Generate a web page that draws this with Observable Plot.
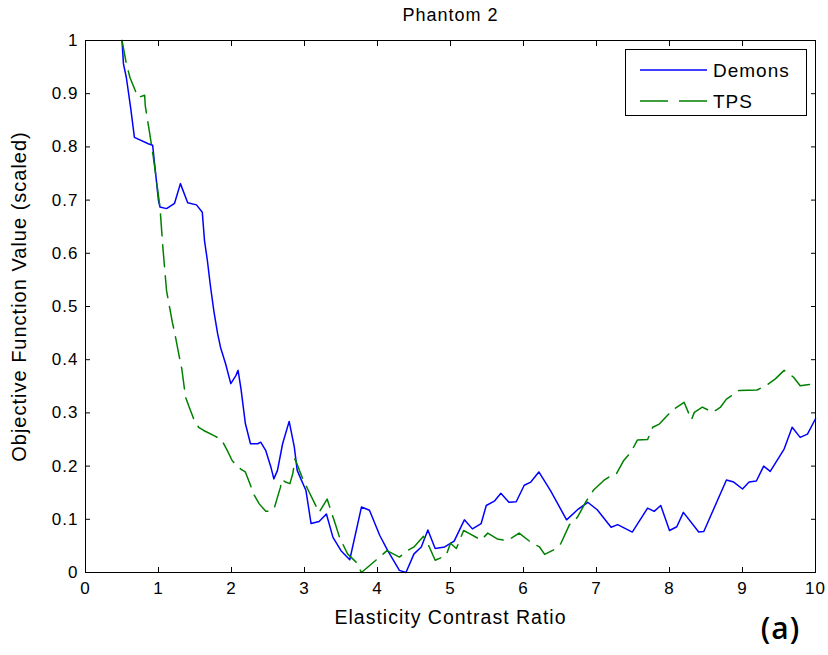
<!DOCTYPE html>
<html><head><meta charset="utf-8">
<script src="https://cdn.jsdelivr.net/npm/d3@7"></script>
<script src="https://cdn.jsdelivr.net/npm/@observablehq/plot@0.6"></script>
<style>
body{margin:0;background:#fff;}
#wrap{position:relative;width:828px;height:655px;}
#legend{position:absolute;left:625px;top:49px;}
</style></head><body><div id="wrap"></div>
<script>
const title = "Phantom 2";
const xLabel = "Elasticity Contrast Ratio";
const yLabel = "Objective Function Value (scaled)";
const panelTag = "(a)";
const seriesNames = ["Demons", "TPS"];
const seriesColors = ["#0000ff", "#008000"];
const xTicks = [0,1,2,3,4,5,6,7,8,9,10];
const yTicks = [0,0.1,0.2,0.3,0.4,0.5,0.6,0.7,0.8,0.9,1];
const yTickLabels = ["0","0.1","0.2","0.3","0.4","0.5","0.6","0.7","0.8","0.9","1"];

const demonsX = [0.5,0.52,0.56,0.62,0.67,0.86,0.92,1.0,1.02,1.11,1.22,1.3,1.4,1.52,1.6,1.63,1.67,1.71,1.76,1.81,1.85,1.92,1.99,2.06,2.09,2.13,2.19,2.26,2.36,2.4,2.47,2.54,2.58,2.63,2.7,2.79,2.86,2.9,2.95,3.02,3.09,3.2,3.3,3.39,3.5,3.62,3.78,3.89,4.03,4.14,4.3,4.39,4.5,4.6,4.69,4.79,4.92,5.05,5.19,5.3,5.42,5.49,5.6,5.69,5.8,5.9,6.01,6.1,6.21,6.37,6.59,6.74,6.88,7.01,7.2,7.29,7.49,7.7,7.79,7.88,8.0,8.1,8.19,8.4,8.47,8.78,8.88,9.0,9.09,9.19,9.29,9.38,9.57,9.68,9.79,9.89,10];
const demonsY = [1.0,0.956,0.93,0.872,0.818,0.806,0.803,0.699,0.687,0.684,0.694,0.731,0.695,0.691,0.677,0.624,0.586,0.54,0.49,0.449,0.423,0.392,0.355,0.37,0.38,0.345,0.28,0.242,0.242,0.245,0.229,0.198,0.176,0.192,0.242,0.284,0.236,0.192,0.176,0.154,0.092,0.096,0.11,0.066,0.041,0.024,0.123,0.117,0.07,0.041,0.004,0.0,0.035,0.048,0.08,0.045,0.048,0.059,0.099,0.082,0.092,0.126,0.134,0.149,0.132,0.133,0.164,0.17,0.189,0.154,0.099,0.118,0.132,0.118,0.085,0.09,0.076,0.121,0.115,0.126,0.079,0.086,0.113,0.076,0.077,0.174,0.17,0.157,0.17,0.172,0.2,0.19,0.232,0.273,0.254,0.26,0.289];

const tpsX = [0.5,0.56,0.61,0.72,0.81,0.82,0.88,0.93,1.02,1.06,1.11,1.19,1.22,1.29,1.32,1.37,1.42,1.49,1.55,1.62,1.78,1.87,1.94,2.01,2.13,2.19,2.26,2.3,2.38,2.47,2.54,2.59,2.62,2.67,2.69,2.74,2.8,2.84,2.87,2.93,2.98,3.05,3.2,3.31,3.43,3.48,3.59,3.71,3.78,4.13,4.3,4.41,4.5,4.63,4.71,4.79,4.94,5.0,5.08,5.18,5.26,5.42,5.51,5.64,5.78,5.94,6.1,6.22,6.29,6.42,6.51,6.63,6.74,6.85,6.96,7.1,7.22,7.27,7.37,7.47,7.56,7.7,7.77,7.86,8.04,8.2,8.3,8.34,8.45,8.59,8.7,8.78,8.95,9.2,9.34,9.45,9.57,9.7,9.79,10];
const tpsY = [1.0,0.956,0.93,0.893,0.897,0.876,0.825,0.78,0.687,0.611,0.53,0.47,0.452,0.402,0.382,0.33,0.311,0.286,0.273,0.267,0.256,0.248,0.23,0.21,0.194,0.189,0.164,0.148,0.129,0.115,0.115,0.123,0.137,0.16,0.175,0.17,0.167,0.186,0.214,0.192,0.175,0.155,0.113,0.138,0.088,0.066,0.035,0.019,0.0,0.041,0.029,0.041,0.048,0.068,0.048,0.023,0.032,0.055,0.045,0.079,0.073,0.061,0.074,0.063,0.06,0.074,0.057,0.048,0.034,0.043,0.054,0.09,0.104,0.132,0.155,0.173,0.184,0.185,0.21,0.226,0.249,0.25,0.273,0.279,0.305,0.32,0.287,0.301,0.311,0.301,0.311,0.326,0.342,0.343,0.353,0.364,0.38,0.367,0.351,0.355];

const demons = demonsX.map((x, i) => ({x, y: demonsY[i], series: seriesNames[0]}));
const tps = tpsX.map((x, i) => ({x, y: tpsY[i], series: seriesNames[1]}));

const font = "'Liberation Sans', Arial, Helvetica, sans-serif";

const chart = Plot.plot({
  width: 828, height: 655,
  marginLeft: 85, marginRight: 13, marginTop: 40, marginBottom: 83,
  x: {domain: [0, 10]},
  y: {domain: [0, 1]},
  style: {fontFamily: font, fontSize: "17px", color: "#000", background: "#fff", letterSpacing: "1px", overflow: "visible"},
  marks: [
    Plot.line(demons, {x: "x", y: "y", stroke: seriesColors[0], strokeWidth: 1.5}),
    Plot.line(tps, {x: "x", y: "y", stroke: seriesColors[1], strokeWidth: 1.5, strokeDasharray: "22,9"}),
    Plot.frame({stroke: "#000"}),
    Plot.axisX(xTicks, {anchor: "bottom", tickSize: -5, tickPadding: 14, label: null, fontSize: 17}),
    Plot.axisX(xTicks, {anchor: "top", tickSize: -5, tickFormat: () => "", label: null}),
    Plot.axisY(yTicks, {anchor: "left", tickSize: -5, tickPadding: 12, label: null, fontSize: 17,
      tickFormat: d => yTickLabels[yTicks.indexOf(d)]}),
    Plot.axisY(yTicks, {anchor: "right", tickSize: -5, tickFormat: () => "", label: null}),
    Plot.text([title], {text: d => d, frameAnchor: "top", dy: -32, fontSize: 18}),
    Plot.text([xLabel], {text: d => d, frameAnchor: "bottom", dy: 51, fontSize: 19.5}),
    Plot.text([yLabel], {text: d => d, frameAnchor: "left", textAnchor: "middle", dx: -66, dy: -10, rotate: -90, fontSize: 20}),
    Plot.text([panelTag], {text: d => d, frameAnchor: "bottom-right", textAnchor: "middle", dx: -35, dy: 66, fontSize: 30,
      fontFamily: "'Open Sans', sans-serif", fontWeight: 600, fill: "#000", letterSpacing: "0px"})
  ]
});

const wrap = document.getElementById("wrap");
wrap.appendChild(chart);

// legend
const lg = d3.create("svg").attr("id", "legend").attr("width", 183).attr("height", 68)
  .style("font-family", font).style("font-size", "19px").style("letter-spacing", "1px");
lg.append("rect").attr("x", 0.5).attr("y", 0.5).attr("width", 181).attr("height", 66)
  .attr("fill", "#fff").attr("stroke", "#000");
seriesNames.forEach((name, i) => {
  const yy = 21 + i * 31;
  lg.append("line").attr("x1", 15).attr("x2", 82).attr("y1", yy).attr("y2", yy)
    .attr("stroke", seriesColors[i]).attr("stroke-width", 1.5)
    .attr("stroke-dasharray", i === 1 ? "28,11" : null);
  lg.append("text").attr("x", 88).attr("y", yy).attr("dy", "0.35em").text(name);
});
wrap.appendChild(lg.node());
</script>
</body></html>
